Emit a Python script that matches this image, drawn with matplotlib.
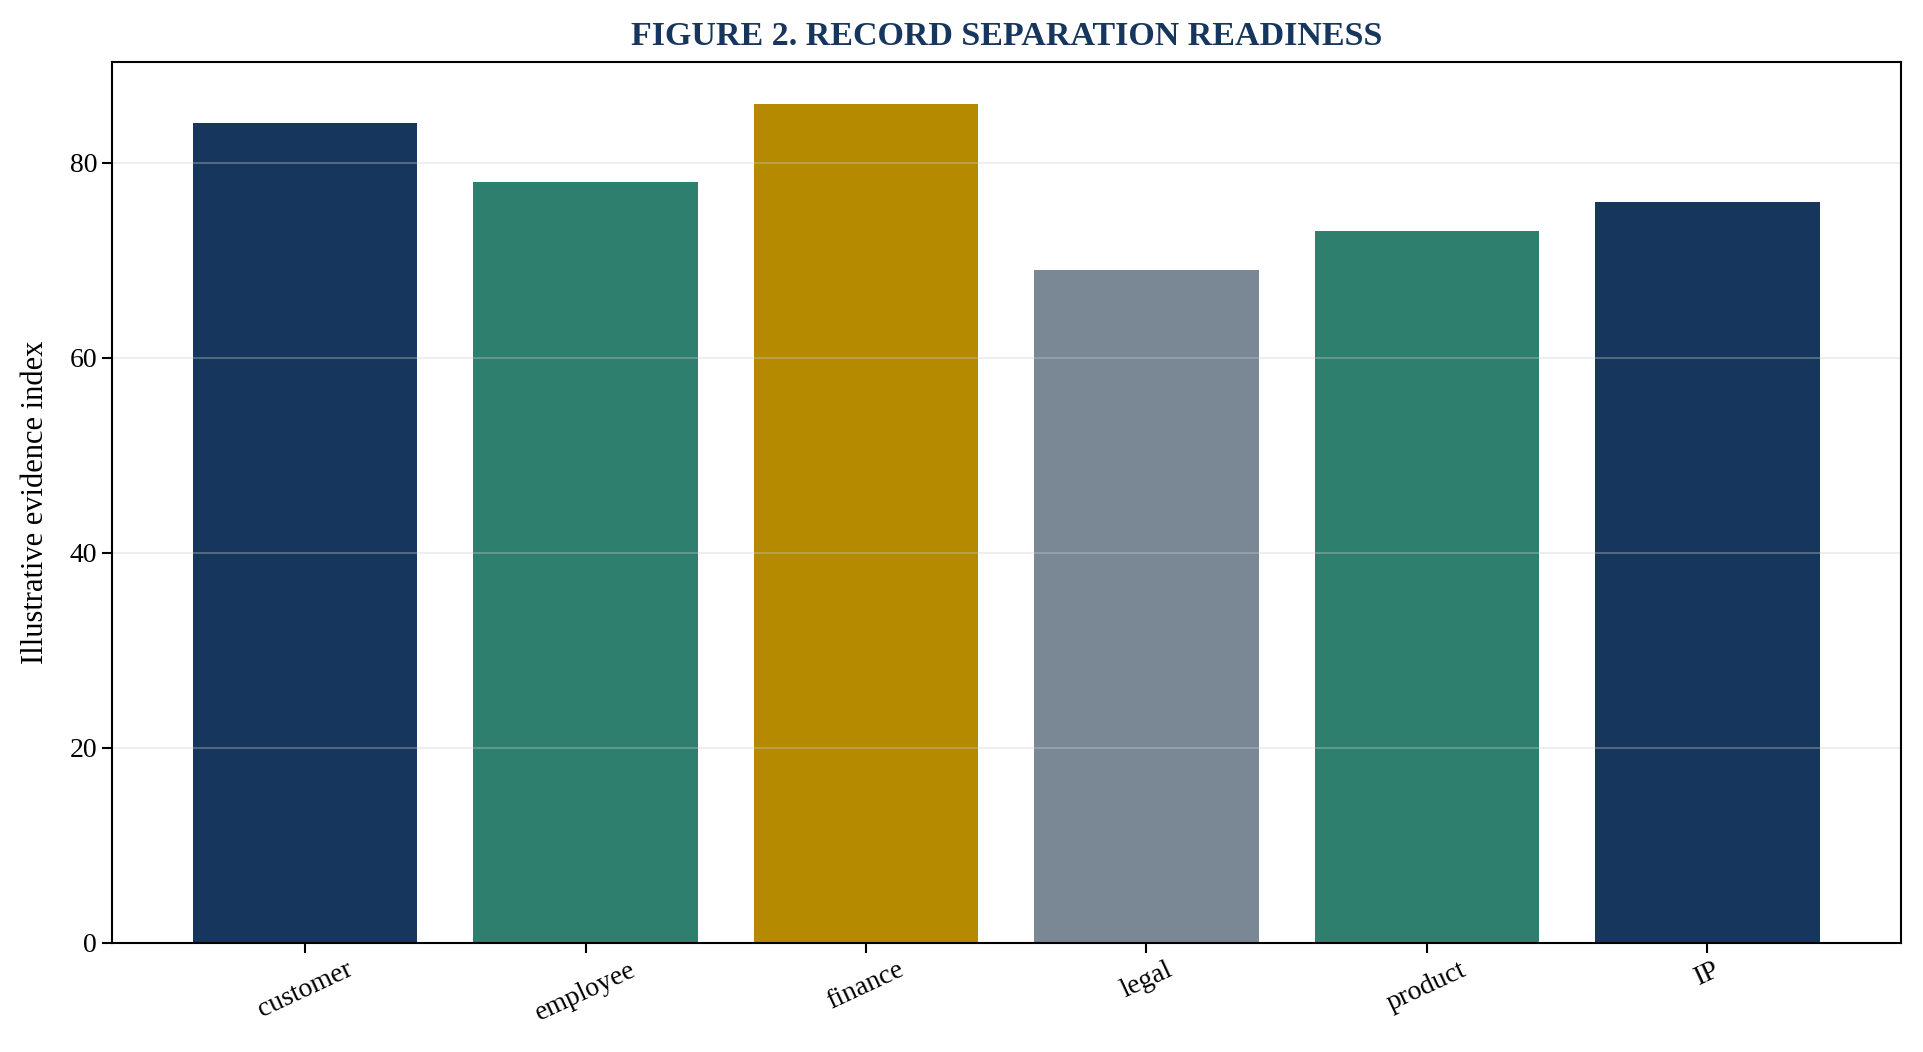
import matplotlib
matplotlib.use("Agg")
import matplotlib.pyplot as plt

plt.rcParams['font.family'] = ['Liberation Serif', 'DejaVu Serif']

categories = ["customer", "employee", "finance", "legal", "product", "IP"]
values = [84, 78, 86, 69, 73, 76]
colors = ["#17365d", "#2e7f6e", "#b58900", "#7a8795", "#2e7f6e", "#17365d"]

fig, ax = plt.subplots(figsize=(19.24, 10.52), dpi=100)
ax.bar(categories, values, color=colors, width=0.8)
ax.grid(axis="y", color="#cccccc", alpha=0.4, linewidth=1.2)
ax.set_ylabel("Illustrative evidence index", fontsize=22, labelpad=14)
ax.set_title("FIGURE 2. RECORD SEPARATION READINESS", fontsize=24.5,
             fontweight="bold", color="#17365d", pad=12)
ax.tick_params(axis="both", labelsize=20, width=1.5, length=7)
plt.setp(ax.get_xticklabels(), rotation=25)
for s in ax.spines.values():
    s.set_linewidth(1.5)

fig.subplots_adjust(left=0.058, right=0.988, top=0.941, bottom=0.104)
fig.savefig("out.png")
